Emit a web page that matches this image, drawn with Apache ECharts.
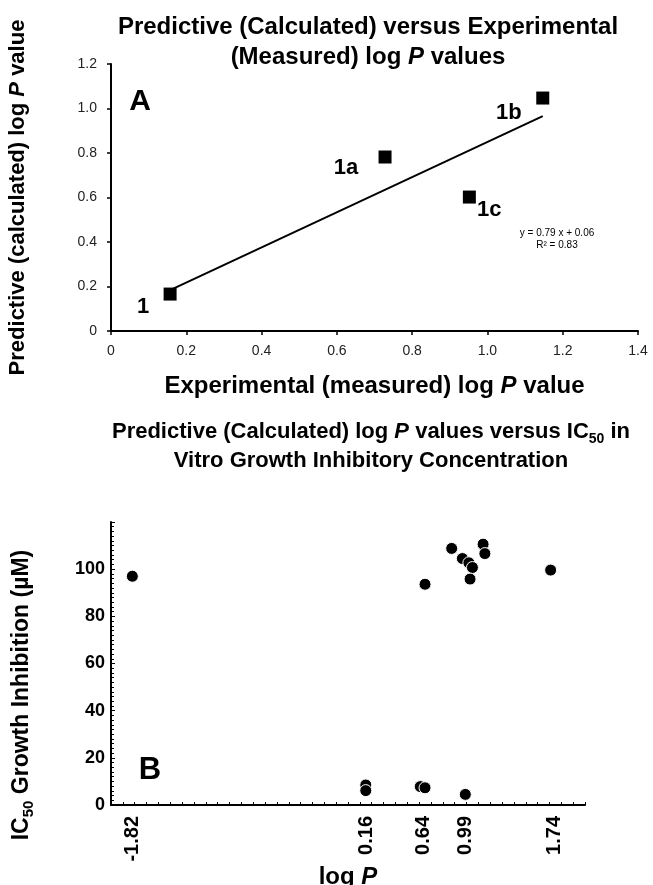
<!DOCTYPE html>
<html><head><meta charset="utf-8">
<script src="https://cdn.jsdelivr.net/npm/echarts@6/dist/echarts.min.js"></script>
<style>html,body{margin:0;padding:0;background:#fff}#c{width:653px;height:885px}</style>
</head><body><div id="c"></div>
<script>
// ---- Panel A data ----
const compoundLabels = ['1', '1a', '1b', '1c'];
const experimentalLogP = [0.157, 0.728, 1.147, 0.952];
const predictedLogP = [0.166, 0.782, 1.047, 0.602];
const fitSlope = 0.79;
const fitIntercept = 0.06;
const fitXRange = [0.157, 1.147];
const fitEquation = ['y = 0.79 x + 0.06', 'R\u00B2 = 0.83'];

// ---- Panel B data ----
const calcLogP = [-1.82, 0.65, 0.875, 0.965, 1.02, 1.05, 1.03, 1.14, 1.155, 1.71, 0.15, 0.15, 0.61, 0.65, 0.99];
const ic50 = [97, 93.6, 108.8, 104.5, 102.7, 100.7, 95.8, 110.6, 106.6, 99.6, 8.5, 6.1, 7.8, 7.3, 4.5];
const logPTickLabels = [-1.82, 0.16, 0.64, 0.99, 1.74];

const FONT = 'Liberation Sans, Arial, sans-serif';
const labelOffsets = { '1': [-27, 13], '1a': [-39, 11], '1b': [-34, 15], '1c': [20, 13] };

const chart = echarts.init(document.getElementById('c'), null, { renderer: 'canvas' });

const scatterA = experimentalLogP.map((x, i) => ({
  value: [x, predictedLogP[i]],
  label: { show: true, formatter: compoundLabels[i], position: 'inside', offset: labelOffsets[compoundLabels[i]] }
}));
const fitLine = fitXRange.map(x => [x, fitSlope * x + fitIntercept]);
const scatterB = calcLogP.map((x, i) => [x, ic50[i]]);

function richSet(size, lh) {
  return {
    b: { fontFamily: FONT, fontWeight: 'bold', fontSize: size, color: '#000', lineHeight: lh },
    i: { fontFamily: FONT, fontWeight: 'bold', fontStyle: 'italic', fontSize: size, color: '#000', lineHeight: lh },
    sub: { fontFamily: FONT, fontWeight: 'bold', fontSize: Math.round(size * 0.64), color: '#000', verticalAlign: 'bottom', lineHeight: Math.round(lh * 0.75) }
  };
}

const option = {
  backgroundColor: '#fff',
  animation: false,
  title: [
    {
      text: 'Predictive (Calculated) versus Experimental\n(Measured) log {i|P} values',
      left: 363, top: 7, textAlign: 'center',
      textStyle: { fontFamily: FONT, fontWeight: 'bold', fontSize: 24, color: '#000', lineHeight: 30, rich: richSet(24, 30) }
    },
    {
      text: 'Predictive (Calculated) log {i|P} values versus IC{sub|50} in\nVitro Growth Inhibitory Concentration',
      left: 366, top: 412, textAlign: 'center',
      textStyle: { fontFamily: FONT, fontWeight: 'bold', fontSize: 22, color: '#000', lineHeight: 29, rich: richSet(22, 29) }
    }
  ],
  grid: [
    { left: 111, top: 64, width: 527, height: 267, containLabel: false, outerBoundsMode: 'none' },
    { left: 111, top: 522, width: 474, height: 283, containLabel: false, outerBoundsMode: 'none' }
  ],
  xAxis: [
    {
      gridIndex: 0, type: 'value', min: 0, max: 1.4, interval: 0.2,
      axisLine: { show: true, lineStyle: { color: '#000', width: 2 } },
      axisTick: { show: true, inside: false, length: 4, lineStyle: { color: '#000', width: 1.5 } },
      axisLabel: { fontFamily: FONT, fontSize: 14, color: '#222', margin: 13, formatter: v => v === 0 ? '0' : v.toFixed(1) },
      splitLine: { show: false },
      name: '{b|Experimental (measured) log }{i|P}{b| value}',
      nameLocation: 'middle', nameGap: 41,
      nameTextStyle: { rich: richSet(24, 28) }
    },
    {
      gridIndex: 1, type: 'value', min: -2, max: 2, interval: 0.1,
      axisLine: { show: true, onZero: false, lineStyle: { color: '#000', width: 2 } },
      axisTick: { show: true, inside: true, length: 3, lineStyle: { color: '#000', width: 1 } },
      axisLabel: { customValues: logPTickLabels, rotate: 90, fontFamily: FONT, fontWeight: 'bold', fontSize: 20, color: '#000', margin: 11, formatter: v => v.toFixed(2) },
      splitLine: { show: false },
      name: '{b|log }{i|P}',
      nameLocation: 'middle', nameGap: 55,
      nameTextStyle: { rich: richSet(24, 26) }
    }
  ],
  yAxis: [
    {
      gridIndex: 0, type: 'value', min: 0, max: 1.2, interval: 0.2,
      axisLine: { show: true, lineStyle: { color: '#000', width: 2 } },
      axisTick: { show: true, inside: false, length: 4, lineStyle: { color: '#000', width: 1.5 } },
      axisLabel: { fontFamily: FONT, fontSize: 14, color: '#222', margin: 14, formatter: v => v === 0 ? '0' : v.toFixed(1) },
      splitLine: { show: false },
      name: '{b|Predictive (calculated) log }{i|P}{b| value}',
      nameLocation: 'middle', nameGap: 80,
      nameTextStyle: { rich: richSet(22, 26) }
    },
    {
      gridIndex: 1, type: 'value', min: 0, max: 120, interval: 20,
      axisLine: { show: true, onZero: false, lineStyle: { color: '#000', width: 2 } },
      axisTick: { show: true, inside: true, length: 4, lineStyle: { color: '#000', width: 1 } },
      minorTick: { show: true, splitNumber: 10, length: 3, lineStyle: { color: '#000', width: 1 } },
      axisLabel: { fontFamily: FONT, fontWeight: 'bold', fontSize: 18, color: '#000', margin: 6, formatter: v => v >= 120 ? '' : String(v) },
      splitLine: { show: false }
    }
  ],
  series: [
    {
      type: 'line', xAxisIndex: 0, yAxisIndex: 0, data: fitLine,
      symbol: 'none', lineStyle: { color: '#000', width: 2 }, z: 2
    },
    {
      type: 'scatter', xAxisIndex: 0, yAxisIndex: 0, data: scatterA,
      symbol: 'rect', symbolSize: 13, itemStyle: { color: '#000', opacity: 1 },
      label: { fontFamily: FONT, fontWeight: 'bold', fontSize: 22, color: '#000', opacity: 1 }, z: 3
    },
    {
      type: 'scatter', xAxisIndex: 1, yAxisIndex: 1, data: scatterB,
      symbol: 'circle', symbolSize: 12, itemStyle: { color: '#000', opacity: 1, borderColor: '#fff', borderWidth: 1 }
    }
  ],
  graphic: [
    { type: 'text', x: 140, y: 102, style: { text: 'A', font: 'bold 30px ' + FONT, fill: '#000', align: 'center', verticalAlign: 'middle' } },
    { type: 'text', x: 150, y: 770, style: { text: 'B', font: 'bold 31px ' + FONT, fill: '#000', align: 'center', verticalAlign: 'middle' } },
    { type: 'text', x: 557, y: 233, style: { text: fitEquation[0], font: '10px ' + FONT, fill: '#000', align: 'center', verticalAlign: 'middle' } },
    { type: 'text', x: 557, y: 245, style: { text: fitEquation[1], font: '10px ' + FONT, fill: '#000', align: 'center', verticalAlign: 'middle' } },
    {
      type: 'text', x: 22, y: 695, rotation: Math.PI / 2,
      style: {
        text: '{b|IC}{sub|50}{b| Growth Inhibition (\u00B5M)}',
        rich: richSet(23, 28), align: 'center', verticalAlign: 'middle'
      }
    }
  ]
};
chart.setOption(option);
</script></body></html>
